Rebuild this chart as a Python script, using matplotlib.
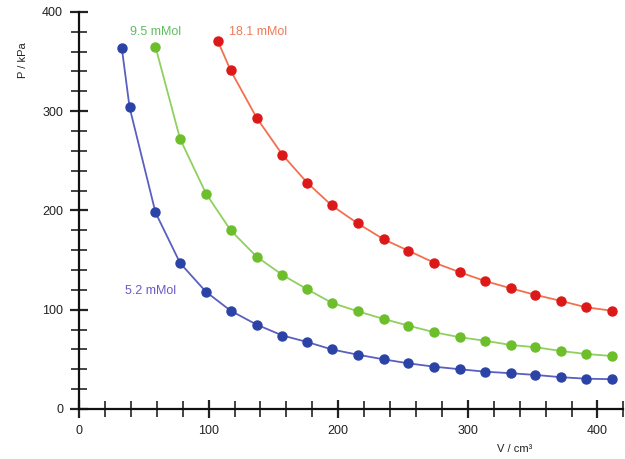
import matplotlib
matplotlib.use("Agg")
import matplotlib.pyplot as plt
from matplotlib.ticker import MultipleLocator

plt.rcParams['font.family'] = ['Liberation Sans', 'DejaVu Sans']

# V / cm3 and P / kPa
v_blue = [33, 39, 59, 78, 98, 117, 137, 157, 176, 195, 215, 235, 254, 274, 294, 313, 333, 352, 372, 391, 411]
p_blue = [364, 304, 198, 147, 118, 99, 85, 74, 67.5, 60, 54.7, 50, 46, 42.6, 40, 37.6, 36, 34.3, 32, 30.5, 30]

v_green = [59, 78, 98, 117, 137, 157, 176, 195, 215, 235, 254, 274, 294, 313, 333, 352, 372, 391, 411]
p_green = [365, 272, 217, 180, 153.5, 135, 120.6, 107, 98.4, 90.7, 84, 77.3, 72.2, 68.8, 64.5, 62.2, 58.4, 55.4, 53.4]

v_red = [107, 117, 137, 157, 176, 195, 215, 235, 254, 274, 294, 313, 333, 352, 372, 391, 411]
p_red = [371, 341, 293.5, 256, 228, 205, 187, 171, 159.5, 147.4, 137.7, 129, 121.6, 115, 108.8, 102.5, 99]

fig = plt.figure(figsize=(6.25, 4.59), dpi=100)
ax = fig.add_axes([0.1264, 0.109, 0.871, 0.865])

ax.plot(v_blue, p_blue, '-', color='#5a5fc0', lw=1.3, zorder=2)
ax.plot(v_blue, p_blue, 'o', color='#2b43a6', ms=6.5, zorder=3)
ax.plot(v_green, p_green, '-', color='#8fd060', lw=1.3, zorder=2)
ax.plot(v_green, p_green, 'o', color='#6cbf2a', ms=6.5, zorder=3)
ax.plot(v_red, p_red, '-', color='#f2704e', lw=1.3, zorder=2)
ax.plot(v_red, p_red, 'o', color='#dd1818', ms=6.5, zorder=3)

ax.text(39, 380, '9.5 mMol', color='#62bb62', fontsize=9, va='center')
ax.text(116, 380, '18.1 mMol', color='#f07a5a', fontsize=9, va='center')
ax.text(35.5, 119, '5.2 mMol', color='#6a5ac8', fontsize=9, va='center')

ax.set_xlim(0, 420)
ax.set_ylim(0, 400)
ax.xaxis.set_major_locator(MultipleLocator(100))
ax.xaxis.set_minor_locator(MultipleLocator(20))
ax.yaxis.set_major_locator(MultipleLocator(100))
ax.yaxis.set_minor_locator(MultipleLocator(20))
ax.tick_params(which='major', direction='inout', length=13, width=1.6, labelsize=9, colors='#222222', pad=5)
ax.tick_params(which='minor', direction='inout', length=11, width=1.2, colors='#222222')
for s in ['top', 'right']:
    ax.spines[s].set_visible(False)
for s in ['left', 'bottom']:
    ax.spines[s].set_linewidth(1.6)
    ax.spines[s].set_color('#111111')

fig.text(0.037, 0.87, 'P / kPa', rotation=90, fontsize=8, ha='center', va='center', color='#222222')
fig.text(0.823, 0.022, 'V / cm³', fontsize=8, ha='center', va='center', color='#222222')

fig.savefig('out.png', dpi=100)
